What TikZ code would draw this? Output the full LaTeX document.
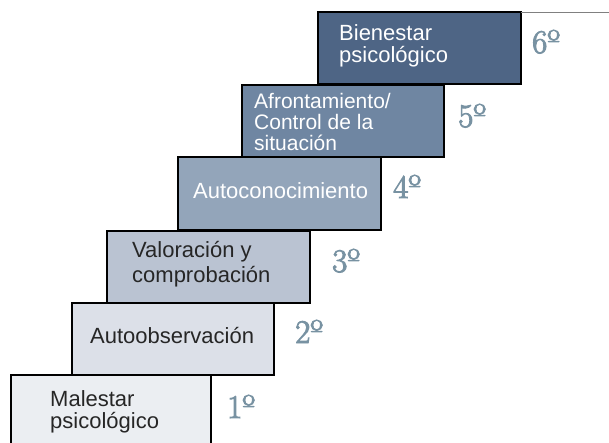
\documentclass[tikz,border=0pt]{standalone}
\usepackage{fontspec}
\setmainfont{Liberation Sans}
\newfontfamily\numfont[FakeBold=3]{Latin Modern Roman}
\definecolor{cA}{HTML}{EBEEF2}
\definecolor{cB}{HTML}{DCE0E8}
\definecolor{cC}{HTML}{BAC3D2}
\definecolor{cD}{HTML}{93A5BA}
\definecolor{cE}{HTML}{6F86A2}
\definecolor{cF}{HTML}{4E6585}
\definecolor{txt}{HTML}{262626}
\definecolor{num}{HTML}{7892A2}
\begin{document}
\begin{tikzpicture}[x=1pt,y=-1pt,
  stepbox/.style={draw=black,line width=1.4pt},
  lbl/.style={inner sep=0pt,align=left,font=\fontsize{22}{22}\selectfont},
  darklbl/.style={lbl,text=txt},
  lightlbl/.style={lbl,text=white},
  numlbl/.style={inner sep=0pt,anchor=base west,text=num,font=\numfont\fontsize{33}{33}\selectfont}]
\useasboundingbox (0,0) rectangle (609,443);
\begin{scope}
\clip (0,0) rectangle (609,443);
\draw[stepbox,fill=cA] (11,375) rectangle (211,460);
\draw[stepbox,fill=cB] (72,303) rectangle (274,375);
\draw[stepbox,fill=cC] (107,231) rectangle (310,303);
\draw[stepbox,fill=cD] (178,157) rectangle (381,230);
\draw[stepbox,fill=cE] (242,85) rectangle (444,157);
\draw[stepbox,fill=cF] (318,12) rectangle (521,84);
\coordinate (tl) at (521,12);
\coordinate (tr) at (612,12);
\draw[gray,line width=0.8pt] (tl) -- (tr);
\end{scope}
\node[darklbl,anchor=west] (t1) at (50,411.5) {Malestar\\psicológico};
\node[darklbl,anchor=base west] (t2) at (90,343) {Autoobservación};
\node[darklbl,anchor=west,font=\fontsize{22}{25}\selectfont] (t3) at (132,264) {Valoración y\\comprobación};
\node[lightlbl,anchor=base west] (t4) at (193,199) {Autoconocimiento};
\node[lightlbl,anchor=west,font=\fontsize{21}{21}\selectfont] (t5) at (254,121.5) {Afrontamiento/\\Control de la\\situación};
\node[lightlbl,anchor=west] (t6) at (339,45.6) {Bienestar\\psicológico};
\node[numlbl] (n1) at (227,418) {1º};
\node[numlbl] (n2) at (295,343) {2º};
\node[numlbl] (n3) at (332,272) {3º};
\node[numlbl] (n4) at (393,198) {4º};
\node[numlbl] (n5) at (458,127) {5º};
\node[numlbl] (n6) at (532,53) {6º};
\end{tikzpicture}
\end{document}
